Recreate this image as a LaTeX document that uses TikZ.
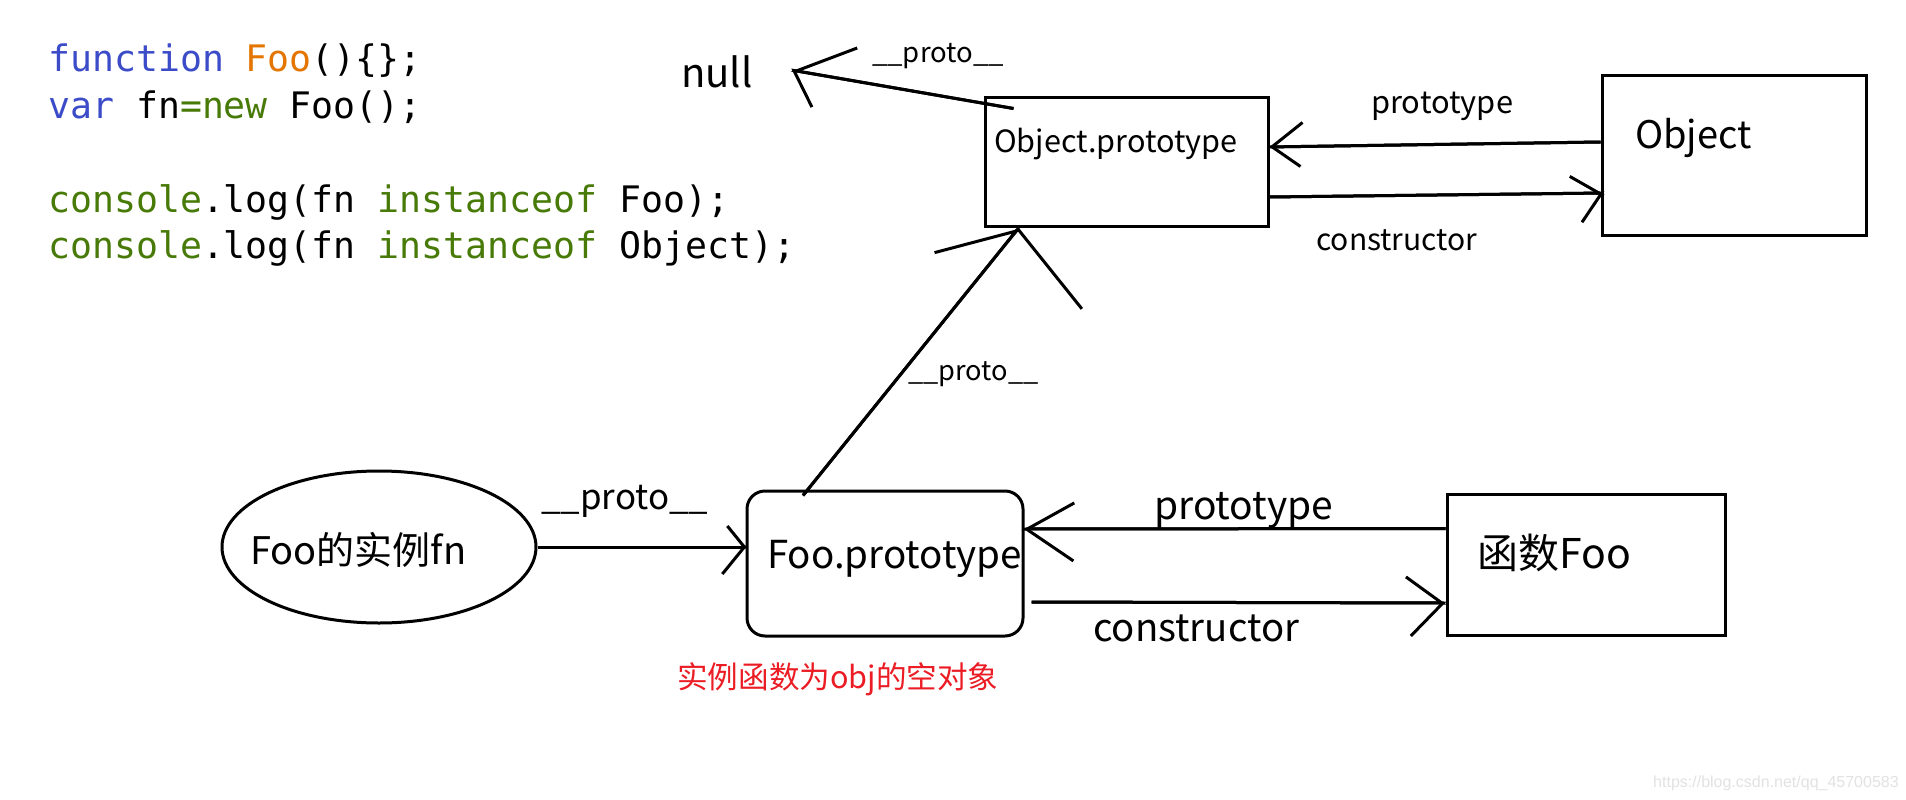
\documentclass[tikz,border=0pt]{standalone}
\usepackage{fontspec}
\setmainfont{Noto Sans CJK SC}
\newfontfamily\codefont{DejaVu Sans Mono}
\newfontfamily\urlfont{Liberation Sans}
\usetikzlibrary{arrows.meta,shapes.geometric}
\definecolor{kwblue}{RGB}{60,76,200}
\definecolor{fnorange}{RGB}{228,118,0}
\definecolor{kwgreen}{RGB}{72,122,8}
\definecolor{notered}{RGB}{236,28,36}
\definecolor{markgray}{RGB}{226,226,226}
\newcommand{\setfs}[1]{\fontsize{#1pt}{#1pt}\selectfont}
\newcommand{\kwb}[1]{\textcolor{kwblue}{#1}}
\newcommand{\kwg}[1]{\textcolor{kwgreen}{#1}}
\newcommand{\kwo}[1]{\textcolor{fnorange}{#1}}
\tikzset{
  box/.style={draw, rectangle, line width=3pt, inner sep=0pt},
  lbl/.style={inner sep=0pt, anchor=base west},
  code/.style={inner sep=0pt, anchor=base west, font=\codefont\setfs{36.5}},
  wire/.style={line width=3pt},
  % hand-drawn open head: left half (length, width), right half (length, width)
  barb/.style n args={4}{-{Straight Barb[left,length=#1pt,width=#2pt]},
    postaction={draw,-{Straight Barb[right,length=#3pt,width=#4pt]}}}
}
\begin{document}
\begin{tikzpicture}[x=1pt,y=-1pt]
\useasboundingbox (0,0) rectangle (1906,800);
\fill[white] (0,0) rectangle (1906,800);

% source code
\node[code] (c1) at (48,72) {\kwb{function} \kwo{Foo}()\{\};};
\node[code] (c2) at (48,118.5) {\kwb{var} fn\kwg{=new} Foo();};
\node[code] (c4) at (48,212) {\kwg{console}.log(fn \kwg{instanceof} Foo);};
\node[code] (c5) at (48,258.5) {\kwg{console}.log(fn \kwg{instanceof} Object);};

% top row
\node[lbl, font=\setfs{40}] (nul) at (681,88) {null};
\coordinate (nullend) at (791,70);
\node[box, minimum width=283pt, minimum height=129pt] (op) at (1126.5,161.5) {};
\node[lbl, font=\setfs{30.6}] (opt) at (994,152) {Object.prototype};
\node[box, minimum width=264pt, minimum height=159pt] (obj) at (1734,155.5) {};
\node[lbl, font=\setfs{38}] (objt) at (1635,148) {Object};

% bottom row
\node[draw, ellipse, line width=3pt, inner sep=0pt, minimum width=314pt, minimum height=152pt] (inst) at (379,547) {};
\node[lbl, font=\setfs{38}] (instt) at (250,564) {Foo的实例fn};
\node[box, rounded corners=18pt, minimum width=276pt, minimum height=145pt] (fp) at (885,563.5) {};
\node[lbl, font=\setfs{38.5}] (fpt) at (767,568) {Foo.prototype};
\node[box, minimum width=278pt, minimum height=141pt] (fn) at (1586,564.5) {};
\node[lbl, font=\setfs{41}] (fnt) at (1477,568) {函数Foo};

% connectors
\draw[wire, barb={24}{66}{56}{66}] ([shift={(30,13)}]op.north west) -- (nullend);
\draw[wire, barb={28}{40}{31}{48}] ([shift={(0,-13.5)}]obj.west) -- ([shift={(-2,-14.5)}]op.east);
\draw[wire, barb={29}{34}{20}{58}] ([shift={(0,35.5)}]op.east) -- ([shift={(4,37.5)}]obj.west);
\draw[wire, barb={68}{100}{22}{200}] ([shift={(-82,6)}]fp.north) -- ([shift={(-107.5,0)}]op.south);
\draw[wire, barb={17}{42}{22}{54}] (inst.east) -- ([shift={(2,-16.5)}]fp.west);
\draw[wire, barb={47}{64}{47}{52}] ([shift={(0,-36)}]fn.west) -- ([shift={(-3,-34.5)}]fp.east);
\draw[wire, barb={36}{52}{32}{66}] ([shift={(7,38.5)}]fp.east) -- ([shift={(1,38.5)}]fn.west);

% connector labels
\node[lbl, font=\setfs{27.5}] (l1) at (872,63) {\_\_proto\_\_};
\node[lbl, font=\setfs{30.8}] (l2) at (1371,113) {prototype};
\node[lbl, font=\setfs{30}] (l3) at (1316,250) {constructor};
\node[lbl, font=\setfs{27.2}] (l4) at (908,380) {\_\_proto\_\_};
\node[lbl, font=\setfs{34.9}] (l5) at (541,509) {\_\_proto\_\_};
\node[lbl, font=\setfs{38.9}] (l6) at (1154,519) {prototype};
\node[lbl, font=\setfs{38.3}] (l7) at (1093,641) {constructor};

% note under Foo.prototype
\node[lbl, font=\setfs{30.6}, text=notered] (note) at (677,688) {实例函数为obj的空对象};

\node[lbl, font=\urlfont\setfs{16}, text=markgray] (wm) at (1653,787) {https://blog.csdn.net/qq\_45700583};
\end{tikzpicture}
\end{document}
